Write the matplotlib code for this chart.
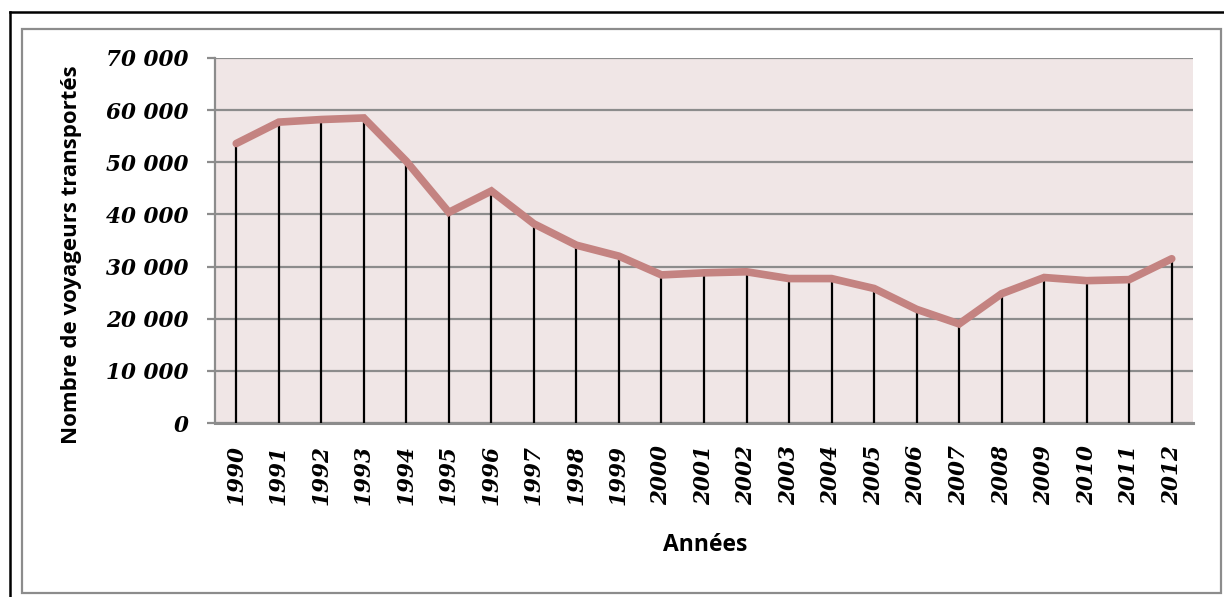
import matplotlib
matplotlib.use("Agg")
import matplotlib.pyplot as plt
from matplotlib.lines import Line2D
from matplotlib.patches import Rectangle
from matplotlib.ticker import FuncFormatter

years = ["1990", "1991", "1992", "1993", "1994", "1995", "1996", "1997", "1998", "1999",
         "2000", "2001", "2002", "2003", "2004", "2005", "2006", "2007", "2008", "2009",
         "2010", "2011", "2012"]
voyageurs = [53600, 57700, 58200, 58500, 50200, 40400, 44500, 38200, 34100, 32000,
             28400, 28800, 29000, 27700, 27700, 25800, 21800, 19000, 24800, 27900,
             27300, 27500, 31500]
y_ticks = [0, 10000, 20000, 30000, 40000, 50000, 60000, 70000]
x_label = "Années"
y_label = "Nombre de voyageurs transportés"

W, H = 1224, 597
fig = plt.figure(figsize=(W / 100, H / 100), dpi=100)
fig.patch.set_facecolor("white")

def fx(px):
    return px / W

def fy(py):
    return 1 - py / H

ax = fig.add_axes([fx(215), fy(423), fx(1193) - fx(215), fy(58) - fy(423)])
ax.set_facecolor("#F0E6E6")

x = list(range(len(years)))
ax.vlines(x, 0, voyageurs, colors="black", linewidth=1.6, zorder=3)
ax.plot(x, voyageurs, color="#C48381", linewidth=5.5, solid_capstyle="round",
        solid_joinstyle="miter", zorder=4)

ax.set_xlim(-0.5, len(years) - 0.5)
ax.set_ylim(0, 70000)
ax.set_yticks(y_ticks)
ax.yaxis.set_major_formatter(FuncFormatter(lambda v, p: f"{int(v):,}".replace(",", " ")))
ax.grid(axis="y", color="#8C8C8C", linewidth=1.6, zorder=1)
ax.set_axisbelow(True)

ax.set_xticks(x)
ax.set_xticklabels(years, rotation=90)
ax.tick_params(axis="x", length=0, pad=16)
ax.tick_params(axis="y", length=6, width=1.6, color="#8C8C8C", pad=13)
for lab in ax.get_xticklabels() + ax.get_yticklabels():
    lab.set_fontfamily("DejaVu Serif")
    lab.set_fontweight("bold")
    lab.set_fontstyle("italic")
    lab.set_fontsize(15.5)
    lab.set_color("black")

for s in ["top", "right"]:
    ax.spines[s].set_visible(False)
ax.spines["left"].set_color("#8C8C8C")
ax.spines["left"].set_linewidth(1.6)
ax.spines["bottom"].set_color("#8C8C8C")
ax.spines["bottom"].set_linewidth(2.2)

fig.text(fx(705), fy(545), x_label, ha="center", va="center",
         fontsize=16.5, fontweight="bold", family="Open Sans")
fig.text(fx(72), fy(255), y_label, ha="center", va="center", rotation=90,
         fontsize=16, fontweight="bold", family="Open Sans")

# frames
fig.add_artist(Rectangle((fx(22), fy(593)), fx(1221) - fx(22), fy(29) - fy(593),
                         transform=fig.transFigure, fill=False,
                         edgecolor="#8C8C8C", linewidth=1.6))
fig.add_artist(Line2D([fx(10), fx(10)], [fy(12), 0], transform=fig.transFigure,
                      color="black", linewidth=1.8))
fig.add_artist(Line2D([fx(10), 1], [fy(12), fy(12)], transform=fig.transFigure,
                      color="black", linewidth=1.8))

fig.savefig("out.png", dpi=100)
